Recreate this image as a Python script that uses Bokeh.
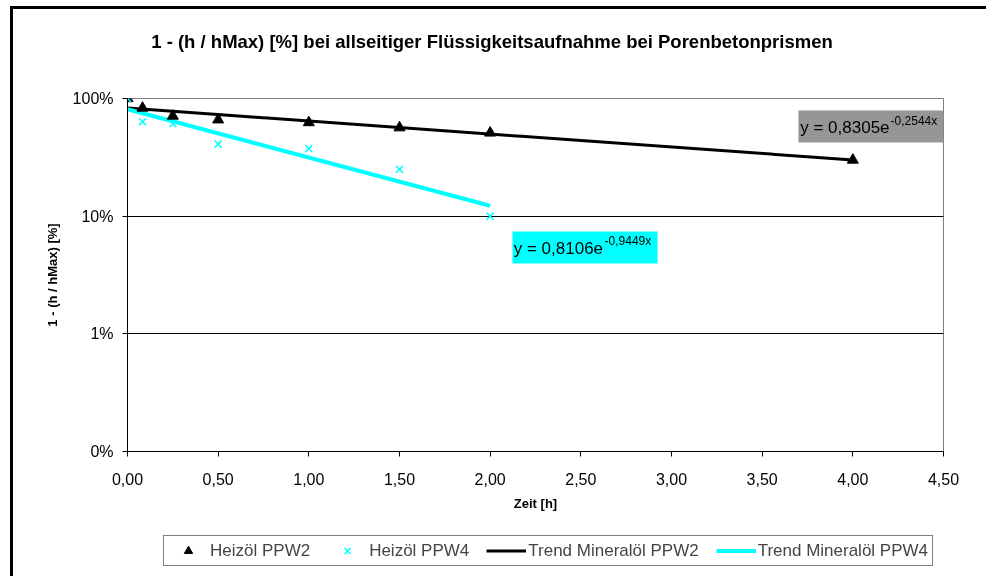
import numpy as np
from bokeh.plotting import figure
from bokeh.layouts import column
from bokeh.models import (FixedTicker, CustomJSTickFormatter, Label, BoxAnnotation,
                          Legend, LegendItem, Range1d, Div)
from bokeh.embed import file_html
from bokeh.resources import INLINE

# Measured series: time [h] and remaining fraction 1 - h/hMax
zeit_ppw2 = [0.0, 0.083, 0.25, 0.5, 1.0, 1.5, 2.0, 4.0]
wert_ppw2 = [1.00, 0.83, 0.71, 0.66, 0.625, 0.565, 0.51, 0.30]
zeit_ppw4 = [0.0, 0.083, 0.25, 0.5, 1.0, 1.5, 2.0]
wert_ppw4 = [1.00, 0.635, 0.61, 0.41, 0.375, 0.25, 0.10]

# Exponential trend coefficients y = a * exp(b * x)
trend_ppw2 = (0.8305, -0.2544)
trend_ppw4 = (0.8106, -0.9449)

x_ticks = [0.0, 0.5, 1.0, 1.5, 2.0, 2.5, 3.0, 3.5, 4.0, 4.5]
y_ticks = [0.001, 0.01, 0.1, 1.0]
y_tick_labels = ["0%", "1%", "10%", "100%"]

series_names = ["Heizöl PPW2", "Heizöl PPW4", "Trend Mineralöl PPW2", "Trend Mineralöl PPW4"]
title_text = "1 - (h / hMax) [%] bei allseitiger Flüssigkeitsaufnahme bei Porenbetonprismen"

FONT = "Liberation Sans"
BLACK = "black"
CYAN = "#00FFFF"
W = 976

# chart title as a text block above the plot
title = Div(text=title_text, width=W, height=60, margin=0,
            styles={"font-family": FONT, "font-size": "18.5px", "font-weight": "bold",
                    "color": BLACK, "text-align": "center", "line-height": "22px",
                    "padding-top": "22px", "padding-right": "18px",
                    "box-sizing": "border-box", "width": f"{W}px"})

p = figure(width=W, height=452, x_range=(0, 4.5), y_range=(0.001, 1.0),
           y_axis_type="log", output_backend="svg", toolbar_location=None,
           min_border_left=114, min_border_right=W - 114 - 816, min_border_top=29,
           min_border_bottom=70, background_fill_color="white",
           border_fill_color="white", margin=0)

p.outline_line_color = "#808080"
p.outline_line_width = 1

# axes
p.xaxis.ticker = FixedTicker(ticks=x_ticks)
p.xaxis.formatter = CustomJSTickFormatter(code="return tick.toFixed(2).replace('.', ',');")
p.yaxis.ticker = FixedTicker(ticks=y_ticks)
p.yaxis.major_label_overrides = {t: s for t, s in zip(y_ticks, y_tick_labels)}
for ax in (p.xaxis[0], p.yaxis[0]):
    ax.axis_line_color = BLACK
    ax.major_tick_line_color = BLACK
    ax.major_tick_in = 0
    ax.major_tick_out = 5
    ax.minor_tick_line_color = None
    ax.major_label_text_font = FONT
    ax.major_label_text_font_size = "16px"
    ax.major_label_text_color = BLACK
    ax.axis_label_text_font = FONT
    ax.axis_label_text_font_style = "bold"
    ax.axis_label_text_font_size = "13px"
    ax.axis_label_text_color = BLACK
p.xaxis.axis_label = "Zeit [h]"
p.yaxis.axis_label = "1 - (h / hMax) [%]"
p.xaxis.major_label_standoff = 16
p.xaxis.axis_label_standoff = 8
p.yaxis.major_label_standoff = 9
p.yaxis.axis_label_standoff = 10

p.xgrid.grid_line_color = None
p.ygrid.ticker = FixedTicker(ticks=[0.01, 0.1])
p.ygrid.grid_line_color = BLACK
p.ygrid.grid_line_width = 1

# trend lines from the fitted coefficients
def trend(coef, xs):
    a, b = coef
    return [a * np.exp(b * x) for x in xs]

x2 = [zeit_ppw2[0], zeit_ppw2[-1]]
x4 = [zeit_ppw4[0], zeit_ppw4[-1]]
p.line(x2, trend(trend_ppw2, x2), line_color=BLACK, line_width=3)
p.line(x4, trend(trend_ppw4, x4), line_color=CYAN, line_width=4)

p.scatter(zeit_ppw2, wert_ppw2, marker="triangle", size=11,
          fill_color=BLACK, line_color=BLACK)
p.scatter(zeit_ppw4, wert_ppw4, marker="x", size=10,
          line_color=CYAN, line_width=1.5)

def fmt(v):
    return f"{v:.4f}".replace(".", ",")

# equation boxes
def equation(coef, left, right, top, bottom, fill, x_text, y_text, x_sup, y_sup):
    p.add_layout(BoxAnnotation(left=left, right=right, top=top, bottom=bottom,
                               fill_color=fill, fill_alpha=1.0, line_color=None))
    p.add_layout(Label(x=x_text, y=y_text, text=f"y = {fmt(coef[0])}e",
                       text_font=FONT, text_font_size="17px", text_color=BLACK,
                       text_baseline="middle", text_align="left"))
    p.add_layout(Label(x=x_sup, y=y_sup, text=f"{fmt(coef[1])}x",
                       text_font=FONT, text_font_size="12px", text_color=BLACK,
                       text_baseline="middle", text_align="left"))

equation(trend_ppw2, 3.700, 4.500, 0.791, 0.423, "#969696",
         3.71, 0.567, 4.208, 0.650)
equation(trend_ppw4, 2.123, 2.923, 0.0741, 0.0396, CYAN,
         2.13, 0.0532, 2.631, 0.0610)

# legend strip below the chart (its frame lines up with the chart frame)
lg = figure(width=W, height=58, x_range=Range1d(0, 1), y_range=Range1d(0, 1),
            output_backend="svg", toolbar_location=None,
            x_axis_location=None, y_axis_location=None,
            min_border=0, outline_line_color=None, margin=0,
            background_fill_color="white", border_fill_color="white")
lg.grid.grid_line_color = None
off_x, off_y = [-5.0], [-5.0]
g1 = lg.scatter(off_x, off_y, marker="triangle", size=9, fill_color=BLACK, line_color=BLACK)
g2 = lg.scatter(off_x, off_y, marker="x", size=9, line_color=CYAN, line_width=1.5)
g3 = lg.line(off_x * 2, off_y * 2, line_color=BLACK, line_width=3)
g4 = lg.line(off_x * 2, off_y * 2, line_color=CYAN, line_width=4)

legend = Legend(items=[LegendItem(label=n, renderers=[g]) for n, g in
                       zip(series_names, [g1, g2, g3, g4])],
                orientation="horizontal", location=(36, 13),
                border_line_color=BLACK, border_line_width=1,
                background_fill_color="white", background_fill_alpha=1.0,
                label_text_font=FONT, label_text_font_size="17px",
                glyph_width=40, glyph_height=21, label_height=21,
                label_standoff=2, spacing=17, padding=4, margin=0)
lg.add_layout(legend, "center")

# outer chart border on the left and top edges
layout = column(title, p, lg, spacing=0)
layout.styles = {"position": "fixed", "left": "13px", "top": "9px",
                 "box-shadow": "-3px -3px 0px 0px black"}

open("out.html", "w").write(file_html(layout, INLINE))
